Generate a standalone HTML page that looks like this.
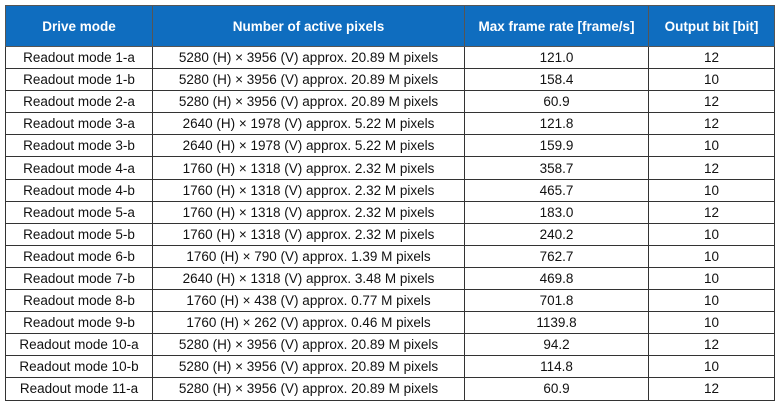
<!DOCTYPE html><html><head><style>
body{margin:0;background:#fff;width:780px;height:405px;overflow:hidden}
table{position:absolute;left:5px;top:5px;border-collapse:collapse;font-family:"Liberation Sans",sans-serif;font-size:13.5px;color:#111;table-layout:fixed}
td,th{border:1px solid #333;text-align:center;padding:0;height:21.1px;white-space:nowrap}
th{background:#0f6dbf;color:#fff;font-weight:bold;height:40px;border-color:#555;font-size:13.5px}
</style></head><body>
<table>
<colgroup><col style="width:147px"><col style="width:312px"><col style="width:184px"><col style="width:126px"></colgroup>
<tr><th>Drive mode</th><th>Number of active pixels</th><th>Max frame rate [frame/s]</th><th>Output bit [bit]</th></tr>
<tr><td>Readout mode 1-a</td><td>5280 (H) × 3956 (V) approx. 20.89 M pixels</td><td>121.0</td><td>12</td></tr>
<tr><td>Readout mode 1-b</td><td>5280 (H) × 3956 (V) approx. 20.89 M pixels</td><td>158.4</td><td>10</td></tr>
<tr><td>Readout mode 2-a</td><td>5280 (H) × 3956 (V) approx. 20.89 M pixels</td><td>60.9</td><td>12</td></tr>
<tr><td>Readout mode 3-a</td><td>2640 (H) × 1978 (V) approx. 5.22 M pixels</td><td>121.8</td><td>12</td></tr>
<tr><td>Readout mode 3-b</td><td>2640 (H) × 1978 (V) approx. 5.22 M pixels</td><td>159.9</td><td>10</td></tr>
<tr><td>Readout mode 4-a</td><td>1760 (H) × 1318 (V) approx. 2.32 M pixels</td><td>358.7</td><td>12</td></tr>
<tr><td>Readout mode 4-b</td><td>1760 (H) × 1318 (V) approx. 2.32 M pixels</td><td>465.7</td><td>10</td></tr>
<tr><td>Readout mode 5-a</td><td>1760 (H) × 1318 (V) approx. 2.32 M pixels</td><td>183.0</td><td>12</td></tr>
<tr><td>Readout mode 5-b</td><td>1760 (H) × 1318 (V) approx. 2.32 M pixels</td><td>240.2</td><td>10</td></tr>
<tr><td>Readout mode 6-b</td><td>1760 (H) × 790 (V) approx. 1.39 M pixels</td><td>762.7</td><td>10</td></tr>
<tr><td>Readout mode 7-b</td><td>2640 (H) × 1318 (V) approx. 3.48 M pixels</td><td>469.8</td><td>10</td></tr>
<tr><td>Readout mode 8-b</td><td>1760 (H) × 438 (V) approx. 0.77 M pixels</td><td>701.8</td><td>10</td></tr>
<tr><td>Readout mode 9-b</td><td>1760 (H) × 262 (V) approx. 0.46 M pixels</td><td>1139.8</td><td>10</td></tr>
<tr><td>Readout mode 10-a</td><td>5280 (H) × 3956 (V) approx. 20.89 M pixels</td><td>94.2</td><td>12</td></tr>
<tr><td>Readout mode 10-b</td><td>5280 (H) × 3956 (V) approx. 20.89 M pixels</td><td>114.8</td><td>10</td></tr>
<tr><td>Readout mode 11-a</td><td>5280 (H) × 3956 (V) approx. 20.89 M pixels</td><td>60.9</td><td>12</td></tr>
</table></body></html>
